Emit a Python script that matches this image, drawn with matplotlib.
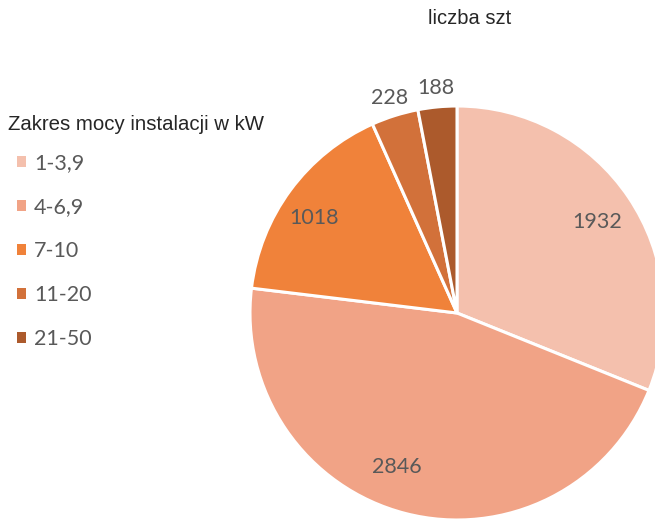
import numpy as np
import matplotlib.pyplot as plt

# dane
zakresy = ['1-3,9', '4-6,9', '7-10', '11-20', '21-50']
liczba = [1932, 2846, 1018, 228, 188]
kolory = ['#F4C0AD', '#F1A386', '#F0823A', '#D2713A', '#AC5A2C']
odl_etykiet = [0.81, 0.80, 0.83, 1.09, 1.09]
przes_kata = [-1, -7, 3, 0, 0]  # korekta kata etykiety (stopnie)

fig = plt.figure(figsize=(6.55, 5.2), dpi=100)

# os z kolem - srodek ok. (457, 313) px, promien ok. 207 px
r_px = 207
box = r_px * 1.1 * 2
ax = fig.add_axes([(457 - box / 2) / 655, (520 - 313 - box / 2) / 520,
                   box / 655, box / 520])
wedges, _ = ax.pie(liczba, colors=kolory, startangle=90, counterclock=False,
                   radius=1.0,
                   wedgeprops=dict(edgecolor='white', linewidth=2.2))
ax.set_xlim(-1.1, 1.1)
ax.set_ylim(-1.1, 1.1)
ax.set_aspect('equal')
ax.axis('off')

# etykiety z wartosciami
for w, val, d, dk in zip(wedges, liczba, odl_etykiet, przes_kata):
    ang = np.deg2rad((w.theta1 + w.theta2) / 2 + dk)
    ax.text(d * np.cos(ang), d * np.sin(ang), str(val), ha='center',
            va='center', fontsize=15.5, family='Lato', color='#595959')

fig.text(470 / 655, 1 - 18 / 520, 'liczba szt', ha='center', va='center',
         fontsize=14.5, family='Liberation Sans', color='#262626')

fig.text(8 / 655, 1 - 125 / 520, 'Zakres mocy instalacji w kW', ha='left',
         va='center', fontsize=14.7, family='Liberation Sans', color='#262626')

leg = fig.legend(wedges, zakresy, loc='upper left',
                 bbox_to_anchor=(17 / 655, 1 - 153 / 520), frameon=False,
                 borderpad=0, borderaxespad=0, handlelength=0.42,
                 handleheight=0.42, handletextpad=0.38, labelspacing=1.12,
                 prop=dict(family='Lato', size=15.5))
for t in leg.get_texts():
    t.set_color('#595959')
for h in leg.legend_handles:
    h.set_linewidth(0)

fig.savefig('out.png', dpi=100)
